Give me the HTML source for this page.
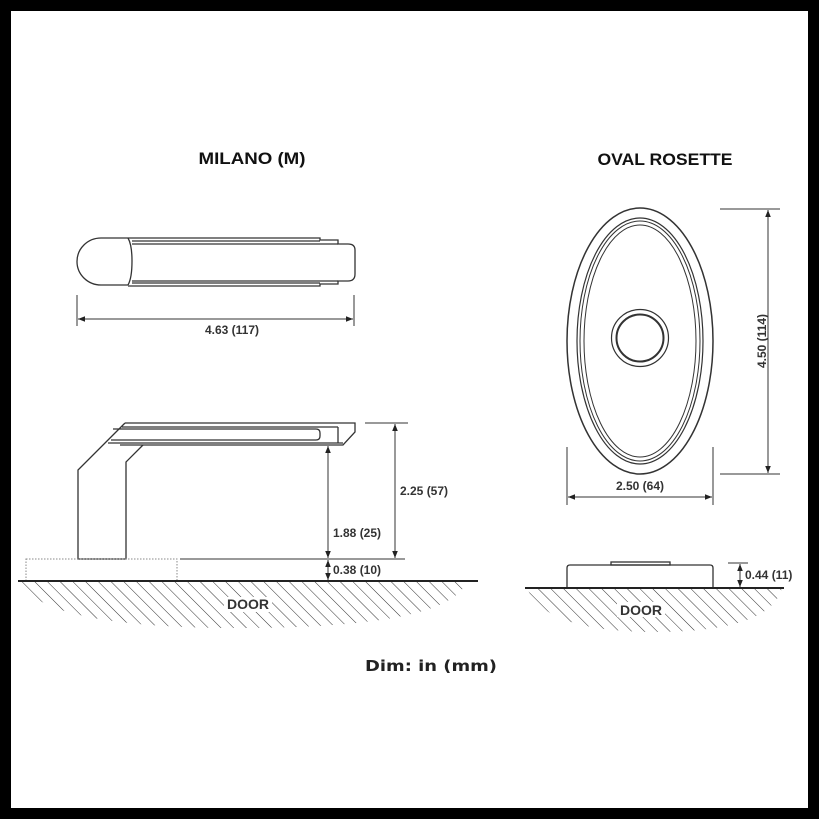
<!DOCTYPE html>
<html><head><meta charset="utf-8"><style>
html,body{margin:0;padding:0;background:#000}
svg{display:block}
</style></head><body>
<svg width="819" height="819" viewBox="0 0 819 819" xmlns="http://www.w3.org/2000/svg">
<defs>
<pattern id="h" width="9" height="9" patternUnits="userSpaceOnUse" patternTransform="rotate(-45)">
<line x1="0" y1="0" x2="0" y2="9" stroke="#333" stroke-width="1"/>
</pattern>
<marker id="a" viewBox="0 0 10 10" refX="10" refY="5" markerWidth="7" markerHeight="7" orient="auto-start-reverse">
<path d="M0,1 L10,5 L0,9 z" fill="#222"/>
</marker>
</defs>
<rect x="11" y="11" width="797" height="797" fill="#fff"/>
<g font-family="Liberation Sans, sans-serif" font-weight="bold" fill="#333" font-size="12">
<text x="252" y="164" font-size="17" fill="#111" text-anchor="middle" textLength="107" lengthAdjust="spacingAndGlyphs">MILANO (M)</text>
<text x="665" y="165" font-size="17" fill="#111" text-anchor="middle" textLength="135" lengthAdjust="spacingAndGlyphs">OVAL ROSETTE</text>

<!-- top view -->
<g fill="none" stroke="#333" stroke-width="1.3">
<path d="M128,238 L101,238 A24,23.5 0 0 0 101,285 L128,285"/>
<path d="M128,238 Q132,245 132,261 Q132,278 128,285"/>
<path d="M128,238 L320,238 L320,240 L338,240 L338,244 L348,244 Q355,244 355,250 L355,274 Q355,281 348,281 L338,281 L338,284 L320,284 L320,286 L128,286"/>
<line x1="132" y1="241" x2="320" y2="241"/>
<line x1="132" y1="244" x2="338" y2="244"/>
<line x1="132" y1="281" x2="338" y2="281"/>
<line x1="132" y1="283" x2="320" y2="283"/>
</g>
<g stroke="#333" stroke-width="1">
<line x1="77" y1="295" x2="77" y2="326"/>
<line x1="354" y1="295" x2="354" y2="326"/>
<line x1="78" y1="319" x2="353" y2="319" marker-start="url(#a)" marker-end="url(#a)"/>
</g>
<text x="232" y="334" text-anchor="middle">4.63 (117)</text>

<!-- side view handle -->
<g fill="none" stroke="#333" stroke-width="1.3">
<path d="M125,423 L355,423 L355,432 L343,445 L120,445"/>
<path d="M125,423 L78,470 L78,559 L126,559 L126,462 L143,445"/>
<line x1="122" y1="427" x2="338" y2="427"/>
<line x1="338" y1="427" x2="338" y2="443"/>
<path d="M113,429 L316,429 Q320,429 320,433 L320,436 Q320,440 316,440 L111,440"/>
<line x1="108" y1="443" x2="343" y2="443"/>
</g>
<g stroke="#333" stroke-width="1">
<line x1="365" y1="423" x2="408" y2="423"/>
<line x1="180" y1="559" x2="405" y2="559"/>
<line x1="395" y1="424" x2="395" y2="558" marker-start="url(#a)" marker-end="url(#a)"/>
<line x1="328" y1="446" x2="328" y2="558" marker-start="url(#a)" marker-end="url(#a)"/>
<line x1="328" y1="560" x2="328" y2="580" marker-start="url(#a)" marker-end="url(#a)"/>
</g>
<rect x="26" y="559" width="151" height="22" fill="none" stroke="#888" stroke-width="1" stroke-dasharray="1.5,1.5"/>
<path d="M20,581 L467,581 Q450,628 240,628 Q40,628 20,581 Z" fill="url(#h)"/>
<line x1="18" y1="581" x2="478" y2="581" stroke="#222" stroke-width="2"/>
<rect x="224" y="597" width="48" height="15" fill="#fff"/>
<text x="248" y="609" text-anchor="middle" font-size="14">DOOR</text>
<text x="400" y="495">2.25 (57)</text>
<text x="333" y="537">1.88 (25)</text>
<text x="333" y="574">0.38 (10)</text>

<!-- oval -->
<g fill="none" stroke="#333">
<ellipse cx="640" cy="341" rx="73" ry="133" stroke-width="1.5"/>
<ellipse cx="640" cy="341" rx="63" ry="123" stroke-width="1.2"/>
<ellipse cx="640" cy="341" rx="60" ry="120" stroke-width="1"/>
<ellipse cx="640" cy="341" rx="56" ry="116" stroke-width="1"/>
<circle cx="640" cy="338" r="28.5" stroke-width="1.2"/>
<circle cx="640" cy="338" r="23.5" stroke-width="2"/>
</g>
<g stroke="#333" stroke-width="1">
<line x1="720" y1="209" x2="780" y2="209"/>
<line x1="720" y1="474" x2="780" y2="474"/>
<line x1="768" y1="210" x2="768" y2="473" marker-start="url(#a)" marker-end="url(#a)"/>
<line x1="567" y1="447" x2="567" y2="505"/>
<line x1="713" y1="447" x2="713" y2="505"/>
<line x1="568" y1="497" x2="712" y2="497" marker-start="url(#a)" marker-end="url(#a)"/>
</g>
<text x="640" y="490" text-anchor="middle">2.50 (64)</text>
<text x="0" y="0" text-anchor="middle" transform="translate(766,341) rotate(-90)">4.50 (114)</text>

<!-- rosette side -->
<path d="M527,588 L782,588 Q770,632 655,632 Q545,632 527,588 Z" fill="url(#h)"/>
<g fill="none" stroke="#333" stroke-width="1.3">
<path d="M567,588 L567,568 Q567,565 570,565 L710,565 Q713,565 713,568 L713,588"/>
<rect x="611" y="562" width="59" height="3"/>
</g>
<line x1="525" y1="588" x2="784" y2="588" stroke="#222" stroke-width="2"/>
<g stroke="#333" stroke-width="1">
<line x1="728" y1="563" x2="748" y2="563"/>
<line x1="740" y1="564" x2="740" y2="587" marker-start="url(#a)" marker-end="url(#a)"/>
</g>
<text x="745" y="579">0.44 (11)</text>
<rect x="617" y="602" width="48" height="15" fill="#fff"/>
<text x="641" y="615" text-anchor="middle" font-size="14">DOOR</text>

<text x="431" y="671" text-anchor="middle" font-family="DejaVu Sans, sans-serif" font-size="15" fill="#222" textLength="132" lengthAdjust="spacingAndGlyphs">Dim: in (mm)</text>
</g>
</svg>
</body></html>
